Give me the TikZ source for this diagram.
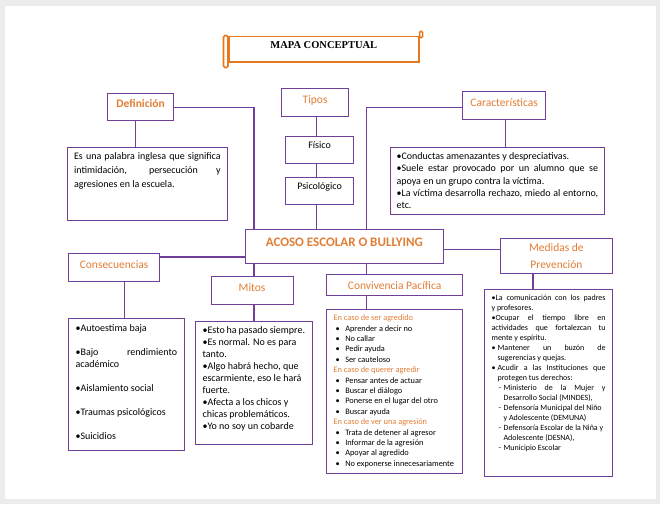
\documentclass[tikz,border=0pt]{standalone}
\usepackage{fontspec}
\setmainfont{Carlito}
\newfontfamily\titlefont{Liberation Serif}
\usetikzlibrary{calc}
\definecolor{pline}{HTML}{703F98}
\definecolor{orng}{HTML}{E27D35}
\definecolor{scrollc}{HTML}{E8781E}
\definecolor{bggray}{HTML}{ECECEC}
\newcommand\jl[1]{\makebox[\linewidth][s]{#1}}
\newcommand\tbx[4]{\parbox[c][#1][t]{#2}{\rule{0pt}{#3}#4}}
\newcommand\cb{\hspace*{2pt}\makebox[9.7pt][l]{•}}
\newcommand\hd[1]{{\color{orng}#1}}
\newcommand\mb{\makebox[6pt][l]{•}}
\newcommand\md{\hspace*{7pt}\makebox[5pt][l]{-}}
\begin{document}
\begin{tikzpicture}[x=1pt,y=-1pt,
  lbl/.style={draw=pline, line width=1.2pt, anchor=north west, inner sep=0pt,
    font=\fontsize{11.5}{14}\selectfont, text=orng, text height=8pt, text depth=7pt},
  blk/.style={draw=pline, line width=1.2pt, anchor=north west, inner sep=0pt,
    font=\fontsize{10}{12}\selectfont, text height=7pt, text depth=9.4pt},
  tbox/.style={draw=pline, line width=1.2pt, anchor=north west, inner ysep=0pt, inner xsep=7pt},
  conn/.style={draw=pline, line width=1.2pt},
  scr/.style={draw=scrollc, line width=1.6pt}]
\useasboundingbox (0,0) rectangle (660,504);
\fill[bggray] (0,0) rectangle (660,504);
\fill[white] (5,6) rectangle (656,499);

% title scroll
\node[scr, anchor=north west, inner sep=0pt, minimum width=190pt, minimum height=25.5pt,
  font=\titlefont\bfseries\fontsize{10.5}{12}\selectfont, text height=8pt, text depth=9pt]
  (title) at (228,35.5) {MAPA CONCEPTUAL};
\draw[scr, rounded corners=1.5pt] ([xshift=-4.5pt]title.north west) rectangle ([yshift=-5pt]title.south west);
\draw[scr, rounded corners=1pt] ([yshift=4pt]title.north east) rectangle ([xshift=3pt,yshift=-2pt]title.north east);

% label boxes
\node[lbl, minimum width=66pt, minimum height=27pt] (def) at (107,93) {\textbf{Definición}};
\node[lbl, minimum width=67pt, minimum height=28pt] (tipos) at (281,88) {Tipos};
\node[blk, minimum width=68pt, minimum height=27pt] (fisico) at (285,136) {Físico};
\node[blk, minimum width=68pt, minimum height=27pt] (psico) at (285,177) {Psicológico};
\node[lbl, minimum width=83pt, minimum height=28pt] (car) at (462,91) {Características};
\node[lbl, minimum width=198.5pt, minimum height=34pt, font=\bfseries\fontsize{13}{15}\selectfont,
  text height=9.5pt, text depth=9.1pt] (cent) at (244.5,229) {ACOSO ESCOLAR O BULLYING};
\node[lbl, minimum width=91pt, minimum height=28pt] (cons) at (68,253) {Consecuencias};
\node[lbl, minimum width=82pt, minimum height=28pt] (mitos) at (210.5,276) {Mitos};
\node[lbl, minimum width=136pt, minimum height=21pt, text height=9pt, text depth=0pt] (conv) at (326,274) {Convivencia Pacífica};
\node[lbl, minimum width=112.4pt, minimum height=35pt, align=center, text height=, text depth=,
  font=\fontsize{11.5}{17}\selectfont] (med) at (499.6,238) {Medidas de\\Prevención};

% text boxes
\node[tbox, font=\fontsize{10}{14}\selectfont] (deftext) at (66.5,147)
  {\tbx{73pt}{146.5pt}{12pt}{\jl{Es una palabra inglesa que significa}\\
   \jl{intimidación, persecución y}\\
   agresiones en la escuela.}};
\node[tbox, inner xsep=6pt, font=\fontsize{10}{12.3}\selectfont] (cartext) at (390,147)
  {\tbx{67pt}{201.5pt}{12pt}{•Conductas amenazantes y despreciativas.\\
   \jl{•Suele estar provocado por un alumno que se}\\
   apoya en un grupo contra la víctima.\\
   \jl{•La víctima desarrolla rechazo, miedo al entorno,}\\
   etc.}};
\node[tbox, font=\fontsize{10}{12}\selectfont] (constext) at (68,318)
  {\tbx{132pt}{101.5pt}{12.5pt}{•Autoestima baja\\[12pt]
   \jl{•Bajo rendimiento}\\
   académico\\[12pt]
   •Aislamiento social\\[12pt]
   •Traumas psicológicos\\[12pt]
   •Suicidios}};
\node[tbox, inner xsep=7.5pt, font=\fontsize{10}{12.1}\selectfont] (mitostext) at (194.5,321)
  {\tbx{123pt}{102.5pt}{11.5pt}{•Esto ha pasado siempre.\\
   •Es normal. No es para\\
   tanto.\\
   •Algo habrá hecho, que\\
   escarmiente, eso le hará\\
   fuerte.\\
   •Afecta a los chicos y\\
   chicas problemáticos.\\
   •Yo no soy un cobarde}};
\node[tbox, font=\fontsize{8.3}{10.4}\selectfont] (convtext) at (326,309)
  {\tbx{164pt}{122pt}{11pt}{\hd{En caso de ser agredido}\\
   \cb Aprender a decir no\\
   \cb No callar\\
   \cb Pedir ayuda\\
   \cb Ser cauteloso\\
   \hd{En caso de querer agredir}\\
   \cb Pensar antes de actuar\\
   \cb Buscar el diálogo\\
   \cb Ponerse en el lugar del otro\\
   \cb Buscar ayuda\\
   \hd{En caso de ver una agresión}\\
   \cb Trata de detener al agresor\\
   \cb Informar de la agresión\\
   \cb Apoyar al agredido\\
   \cb No exponerse innecesariamente}};
\node[tbox, font=\fontsize{8}{10}\selectfont] (medtext) at (484,289)
  {\tbx{187pt}{114pt}{11pt}{\jl{•La comunicación con los padres}\\
   y profesores.\\
   \jl{•Ocupar el tiempo libre en}\\
   \jl{actividades que fortalezcan tu}\\
   mente y espíritu.\\
   \mb\makebox[\dimexpr\linewidth-6pt\relax][s]{Mantener un buzón de}\\
   \hspace*{6pt}sugerencias y quejas.\\
   \mb\makebox[\dimexpr\linewidth-6pt\relax][s]{Acudir a las Instituciones que}\\
   \hspace*{6pt}protegen tus derechos:\\
   \md\makebox[\dimexpr\linewidth-12pt\relax][s]{Ministerio de la Mujer y}\\
   \hspace*{12pt}Desarrollo Social (MINDES),\\
   \md Defensoría Municipal del Niño\\
   \hspace*{12pt}y Adolescente (DEMUNA)\\
   \md Defensoría Escolar de la Niña y\\
   \hspace*{12pt}Adolescente (DESNA),\\
   \md Municipio Escolar}};

% connectors
\coordinate (dx) at ([xshift=9.5pt]cent.north west);
\coordinate (kx) at ([xshift=122pt]cent.north west);
\coordinate (tx) at ([xshift=-28pt]cent.north);
\coordinate (mx) at ([xshift=9.5pt]cent.south west);
\coordinate (cx) at ([xshift=122pt]cent.south west);
\coordinate (my) at ([yshift=-3pt]cent.east);
\coordinate (cy) at ([yshift=-4pt]cons.north east);
\coordinate (defx) at ([xshift=-5pt]def.south);
\coordinate (consx) at ([xshift=10.5pt]cons.south);
\coordinate (medx) at ([xshift=33.4pt]med.south west);
\coordinate (carx) at ([xshift=1.5pt]car.south);

\draw[conn] ([yshift=-0.5pt]def.east) -| (dx);
\draw[conn] (defx) -- (defx |- deftext.north);
\draw[conn] (tx |- tipos.south) -- (tx |- fisico.north);
\draw[conn] (tx |- fisico.south) -- (tx |- psico.north);
\draw[conn] (tx |- psico.south) -- (tx);
\draw[conn] ([yshift=-2pt]car.west) -| (kx);
\draw[conn] (carx) -- (carx |- cartext.north);
\draw[conn] (cy) -- (cy -| cent.west);
\draw[conn] (consx) -- (consx |- constext.north);
\draw[conn] (mx) -- (mx |- mitos.north);
\draw[conn] (mx |- mitos.south) -- (mx |- mitostext.north);
\draw[conn] (cx) -- (cx |- conv.north);
\draw[conn] (cx |- conv.south) -- (cx |- convtext.north);
\draw[conn] (my) -- (my -| med.west);
\draw[conn] (medx) -- (medx |- medtext.north);
\end{tikzpicture}
\end{document}
